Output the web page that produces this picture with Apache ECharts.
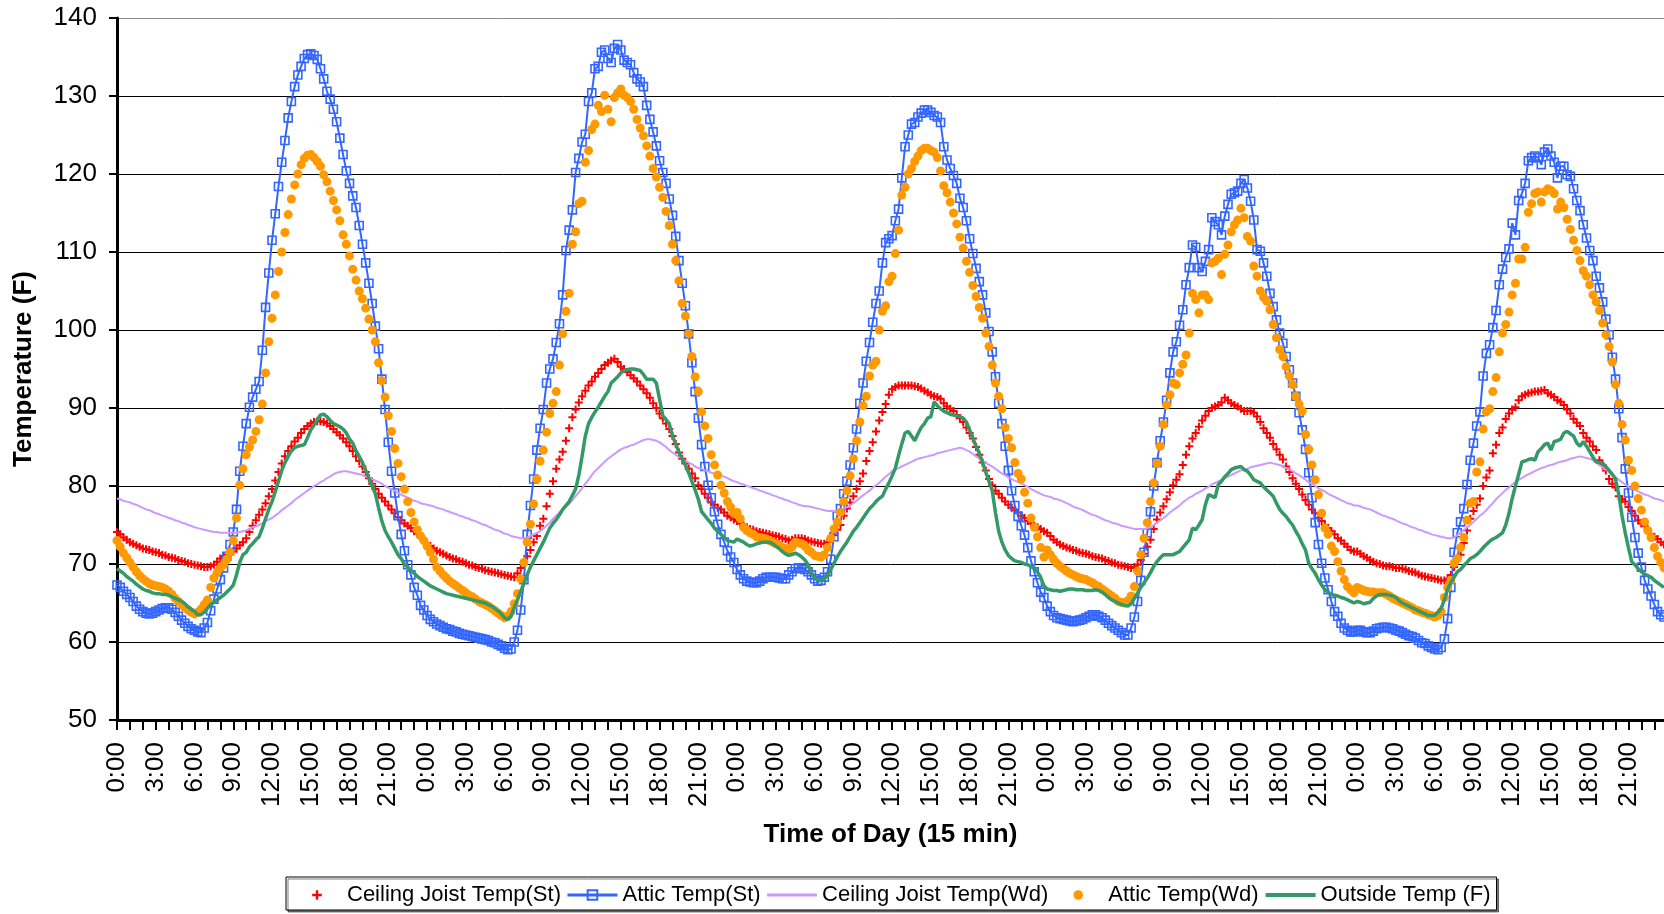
<!DOCTYPE html>
<html>
<head>
<meta charset="utf-8">
<title>Attic and Ceiling Joist Temperatures</title>
<script src="https://cdn.jsdelivr.net/npm/echarts@6.0.0/dist/echarts.min.js"></script>
<style>
html, body { margin: 0; padding: 0; background: #ffffff; }
#chart { width: 1664px; height: 914px; }
</style>
</head>
<body>
<div id="chart"></div>
<script>
// Quarter-hour slots of one day
const timeOfDay = [
  "0:00","0:15","0:30","0:45","1:00","1:15","1:30","1:45","2:00","2:15","2:30","2:45",
  "3:00","3:15","3:30","3:45","4:00","4:15","4:30","4:45","5:00","5:15","5:30","5:45",
  "6:00","6:15","6:30","6:45","7:00","7:15","7:30","7:45","8:00","8:15","8:30","8:45",
  "9:00","9:15","9:30","9:45","10:00","10:15","10:30","10:45","11:00","11:15","11:30","11:45",
  "12:00","12:15","12:30","12:45","13:00","13:15","13:30","13:45","14:00","14:15","14:30","14:45",
  "15:00","15:15","15:30","15:45","16:00","16:15","16:30","16:45","17:00","17:15","17:30","17:45",
  "18:00","18:15","18:30","18:45","19:00","19:15","19:30","19:45","20:00","20:15","20:30","20:45",
  "21:00","21:15","21:30","21:45","22:00","22:15","22:30","22:45","23:00","23:15","23:30","23:45"
];
const dayCount = 5;

// Ceiling joist temperature, steel framing (F), one value per 15 minutes
const ceilingJoistSt = [
  74.1,73.8,73.4,73.1, 72.8,72.6,72.4,72.2, 72.0,71.9,71.8,71.6, 71.5,71.4,71.2,71.1, 70.9,70.8,70.7,70.5, 70.4,70.3,70.1,70.0,
  69.9,69.8,69.7,69.6, 69.6,69.7,69.9,70.3, 70.7,71.0,71.2,71.4, 71.6,72.0,72.4,72.8, 73.3,74.1,74.9,75.6, 76.3,77.0,77.8,78.7,
  79.6,80.7,81.8,82.9, 83.8,84.5,85.1,85.7, 86.2,86.8,87.3,87.7, 88.0,88.2,88.3,88.3, 88.2,88.0,87.7,87.3, 86.9,86.5,86.1,85.6,
  85.1,84.5,83.8,83.2, 82.5,81.8,81.0,80.3, 79.6,79.0,78.5,78.0, 77.5,77.0,76.5,76.0, 75.6,75.2,74.9,74.6, 74.2,73.9,73.5,73.1,

  72.6,72.3,72.0,71.7, 71.5,71.3,71.1,70.9, 70.7,70.6,70.4,70.3, 70.1,69.9,69.8,69.6, 69.5,69.4,69.2,69.1, 69.0,68.9,68.8,68.7,
  68.6,68.5,68.4,68.3, 68.8,69.5,70.2,71.0, 71.8,72.8,73.6,74.9, 75.8,77.4,79.0,80.6, 82.2,83.4,84.4,85.8, 87.4,88.8,89.8,90.7,
  91.5,92.2,92.9,93.4, 94.0,94.5,95.0,95.5, 95.8,96.1,96.3,95.9, 95.3,95.0,94.6,94.2, 93.8,93.4,92.9,92.4, 91.9,91.3,90.6,90.0,
  89.3,88.7,88.0,87.3, 86.4,85.4,84.3,83.5, 82.9,82.2,81.6,81.0, 80.1,79.6,79.0,78.5, 77.9,77.6,77.2,77.0, 76.6,76.2,76.0,75.7,

  75.5,75.2,74.9,74.7, 74.5,74.4,74.2,74.1, 74.0,73.9,73.8,73.7, 73.6,73.5,73.3,73.2, 73.0,73.1,73.3,73.3, 73.3,73.2,73.0,72.9,
  72.8,72.7,72.6,72.6, 72.8,73.2,73.7,74.4, 75.0,76.2,77.1,77.9, 78.7,79.6,80.6,81.6, 83.2,84.5,85.6,87.0, 88.4,89.5,90.5,91.7,
  92.4,92.7,92.9,92.9, 92.9,92.9,92.9,92.8, 92.7,92.5,92.2,92.0, 91.7,91.5,91.4,91.2, 90.6,90.2,89.9,89.6, 89.1,88.7,88.2,87.5,
  86.8,86.1,85.0,84.0, 83.0,82.0,80.9,80.1, 79.4,79.0,78.5,78.0, 77.6,77.2,76.9,76.6, 76.2,75.9,75.5,75.2, 74.9,74.7,74.5,74.2,

  74.0,73.6,73.1,72.8, 72.5,72.3,72.1,72.0, 71.8,71.7,71.5,71.4, 71.3,71.2,71.0,70.9, 70.8,70.7,70.5,70.4, 70.2,70.1,69.9,69.8,
  69.7,69.6,69.5,69.6, 69.9,70.5,71.3,72.2, 73.1,74.5,75.7,76.6, 77.4,78.3,79.2,80.1, 80.8,81.5,82.7,84.0, 85.1,86.1,86.8,87.6,
  88.4,89.0,89.6,90.0, 90.2,90.4,90.7,91.3, 91.0,90.6,90.4,90.2, 89.9,89.6,89.6,89.6, 89.4,88.9,88.2,87.4, 86.8,86.2,85.4,84.7,
  84.0,83.4,82.5,81.8, 81.0,80.3,79.6,78.9, 78.2,77.6,77.0,76.5, 75.9,75.5,75.0,74.6, 74.2,73.8,73.3,73.0, 72.6,72.2,71.8,71.6,

  71.6,71.3,71.0,70.8, 70.5,70.3,70.1,70.0, 69.8,69.7,69.7,69.6, 69.5,69.5,69.4,69.3, 69.1,69.0,68.9,68.7, 68.5,68.4,68.3,68.2,
  68.1,68.0,67.9,67.9, 68.1,68.6,69.6,70.6, 71.2,72.7,74.3,75.8, 76.8,77.6,78.4,80.0, 81.1,82.0,84.2,85.3, 86.8,87.5,88.6,89.3,
  89.8,90.1,91.0,91.5, 91.7,91.9,92.0,92.1, 92.1,92.2,92.3,91.9, 91.7,91.4,91.0,90.8, 90.4,89.8,89.3,88.6, 88.1,87.7,86.8,86.2,
  85.7,85.1,84.6,83.3, 82.7,82.0,80.9,80.3, 79.8,78.7,78.3,78.0, 77.3,76.8,76.2,75.6, 75.2,74.9,74.3,73.8, 73.5,73.2,72.8,72.5
];

// Attic air temperature, steel framing (F)
const atticSt = [
  67.3,67.0,66.5,66.1, 65.7,65.2,64.6,64.2, 63.9,63.7,63.6,63.7, 63.9,64.1,64.3,64.4, 64.4,64.2,63.8,63.3, 62.8,62.4,62.0,61.7,
  61.5,61.3,61.2,61.8, 62.5,64.0,65.5,66.8, 68.0,69.5,71.0,72.5, 74.1,77.0,81.9,85.1, 88.0,90.1,91.4,92.4, 93.4,97.4,102.9,107.3,
  111.5,114.9,118.4,121.5, 124.3,127.2,129.3,131.2, 132.7,133.8,134.8,135.3, 135.4,135.2,134.7,133.5, 132.2,130.6,129.6,128.3, 126.7,124.6,122.5,120.4,
  118.8,117.2,115.7,113.4, 111.0,108.6,106.0,103.4, 100.5,97.6,93.7,89.8, 85.6,81.9,79.1,76.2, 73.8,71.7,69.9,68.6, 67.0,66.0,64.7,64.1,

  63.4,62.9,62.6,62.3, 62.1,61.9,61.7,61.6, 61.4,61.3,61.1,61.0, 60.9,60.8,60.7,60.6, 60.5,60.4,60.3,60.2, 60.0,59.9,59.7,59.5,
  59.2,59.0,59.1,60.0, 61.5,64.1,68.0,73.8, 77.5,80.9,84.6,87.4, 89.8,93.2,95.0,96.3, 98.4,100.8,104.5,110.2, 112.8,115.4,120.2,122.0,
  124.1,125.1,129.3,130.4, 133.5,133.8,135.6,135.9, 134.8,134.3,136.1,136.6, 135.9,134.6,134.3,134.0, 133.0,132.2,131.8,131.2, 128.8,127.0,125.4,123.6,
  121.7,120.2,118.8,116.8, 114.7,112.0,108.9,106.0, 103.1,99.5,95.8,92.1, 88.7,85.3,82.5,80.1, 78.5,76.7,75.1,73.8, 72.8,71.7,70.9,70.2,

  69.3,68.6,68.1,67.8, 67.7,67.6,67.6,67.8, 68.1,68.3,68.3,68.3, 68.3,68.2,68.1,68.1, 68.6,69.0,69.4,69.5, 69.5,69.3,69.0,68.6,
  68.1,67.8,67.9,68.3, 69.0,70.6,73.5,76.2, 77.1,79.0,80.6,82.7, 84.9,87.3,90.6,93.2, 96.0,98.4,101.0,103.4, 105.0,108.6,111.2,111.7,
  112.1,114.0,115.5,119.5, 123.5,125.0,126.4,126.6, 127.3,127.8,128.2,128.2, 127.9,127.5,127.3,126.6, 123.5,121.8,120.7,119.8, 118.8,116.9,115.7,114.0,
  111.7,109.8,107.9,106.2, 104.5,102.2,99.8,97.2, 94.0,90.6,88.0,85.1, 82.0,79.4,77.5,76.1, 74.9,73.7,72.1,70.4, 69.0,67.6,66.4,65.7,

  64.6,63.9,63.4,63.1, 63.0,62.9,62.8,62.7, 62.6,62.7,62.8,62.9, 63.1,63.3,63.5,63.5, 63.3,63.1,62.8,62.4, 62.1,61.8,61.5,61.2,
  60.9,60.9,61.8,63.2, 65.2,67.9,71.5,74.0, 76.7,80.0,83.0,85.8, 88.2,91.0,94.5,97.2, 98.5,100.6,102.6,105.8, 108.0,110.9,110.6,108.0,
  107.5,108.8,110.3,114.4, 113.9,113.5,112.2,114.6, 116.1,117.4,117.6,117.8, 118.8,119.3,118.2,116.5, 114.1,110.3,110.1,108.6, 106.9,104.7,103.0,101.3,
  99.6,98.3,96.6,94.9, 93.2,91.5,89.4,87.2, 84.7,81.7,78.5,75.3, 72.5,70.1,68.2,66.7, 65.2,63.9,63.3,62.4, 61.8,61.5,61.3,61.3,

  61.5,61.5,61.3,61.2, 61.2,61.4,61.7,61.8, 61.9,61.9,61.8,61.7, 61.5,61.4,61.2,61.0, 60.8,60.7,60.5,60.2, 59.9,59.8,59.5,59.3,
  59.1,59.0,59.3,60.4, 63.0,67.0,71.5,74.0, 75.4,77.1,80.2,83.3, 85.5,87.7,89.5,94.1, 97.0,98.1,100.3,102.5, 105.8,107.8,109.3,110.4,
  113.7,112.2,116.6,117.5, 118.8,121.7,122.1,122.3, 122.1,121.2,122.8,123.2, 122.3,121.5,119.5,121.0, 121.0,119.9,119.7,118.1, 116.6,115.3,113.5,111.8,
  110.2,108.9,106.9,105.4, 103.6,101.4,99.4,96.5, 93.7,89.9,86.2,82.2, 79.1,76.0,73.4,71.4, 69.6,67.9,66.8,65.9, 64.8,63.9,63.5,63.2
];

// Ceiling joist temperature, wood framing (F)
const ceilingJoistWd = [
  78.4,78.3,78.1,78.0, 77.9,77.7,77.6,77.4, 77.2,77.0,76.9,76.7, 76.5,76.4,76.2,76.1, 75.9,75.8,75.6,75.5, 75.3,75.2,75.0,74.9,
  74.7,74.6,74.5,74.4, 74.3,74.2,74.1,74.1, 74.0,74.0,74.0,74.0, 74.0,74.0,74.1,74.2, 74.3,74.5,74.7,74.8, 75.0,75.2,75.5,75.7,
  75.9,76.2,76.5,76.9, 77.2,77.5,77.8,78.2, 78.5,78.8,79.1,79.4, 79.7,80.0,80.2,80.5, 80.7,81.0,81.2,81.5, 81.7,81.8,81.9,81.9,
  81.8,81.7,81.6,81.5, 81.4,81.2,81.1,80.9, 80.7,80.5,80.3,80.0, 79.8,79.6,79.4,79.1, 78.9,78.7,78.5,78.3, 78.1,78.0,77.8,77.7,

  77.6,77.5,77.4,77.2, 77.1,77.0,76.8,76.7, 76.5,76.4,76.2,76.1, 75.9,75.8,75.6,75.5, 75.3,75.1,75.0,74.8, 74.6,74.4,74.3,74.1,
  73.9,73.8,73.6,73.5, 73.4,73.3,73.3,73.4, 73.6,73.8,74.0,74.2, 74.5,74.9,75.3,75.8, 76.2,76.6,77.0,77.3, 77.7,78.2,78.7,79.2,
  79.7,80.3,80.8,81.4, 81.9,82.3,82.7,83.1, 83.5,83.8,84.1,84.4, 84.7,84.9,85.0,85.2, 85.3,85.5,85.7,85.9, 86.0,86.0,85.9,85.8,
  85.6,85.3,85.0,84.6, 84.3,84.0,83.7,83.5, 83.2,83.0,82.8,82.5, 82.3,82.2,82.0,81.9, 81.7,81.6,81.5,81.3, 81.2,81.0,80.8,80.6,

  80.5,80.3,80.2,80.0, 79.9,79.7,79.6,79.4, 79.3,79.1,79.0,78.8, 78.7,78.5,78.4,78.2, 78.1,77.9,77.8,77.6, 77.5,77.4,77.4,77.3,
  77.2,77.1,77.0,76.9, 76.8,76.8,76.8,76.8, 76.9,77.1,77.3,77.5, 77.8,78.1,78.5,78.8, 79.1,79.4,79.8,80.1, 80.4,80.8,81.2,81.5,
  81.9,82.1,82.3,82.5, 82.7,82.9,83.1,83.3, 83.5,83.6,83.7,83.8, 83.9,84.0,84.2,84.3, 84.4,84.5,84.6,84.7, 84.8,84.9,84.8,84.6,
  84.4,84.1,83.8,83.5, 83.2,83.0,82.7,82.5, 82.2,81.9,81.6,81.4, 81.1,80.9,80.7,80.5, 80.3,80.1,79.9,79.6, 79.4,79.2,79.0,78.8,

  78.7,78.6,78.4,78.3, 78.2,78.0,77.8,77.6, 77.4,77.2,77.1,76.9, 76.7,76.5,76.3,76.2, 76.0,75.8,75.6,75.5, 75.3,75.2,75.1,74.9,
  74.8,74.7,74.6,74.5, 74.5,74.5,74.5,74.6, 74.7,75.0,75.3,75.6, 75.9,76.2,76.6,76.9, 77.2,77.5,77.9,78.2, 78.5,78.7,79.0,79.2,
  79.4,79.7,79.9,80.2, 80.4,80.6,80.8,81.0, 81.2,81.4,81.6,81.8, 82.0,82.1,82.2,82.4, 82.5,82.6,82.7,82.8, 82.9,83.0,82.9,82.8,
  82.7,82.5,82.3,82.1, 81.9,81.6,81.4,81.1, 80.8,80.5,80.3,80.0, 79.7,79.5,79.3,79.0, 78.8,78.6,78.4,78.2, 78.0,77.8,77.7,77.5,

  77.5,77.4,77.2,77.1, 77.0,76.8,76.6,76.4, 76.2,76.1,75.9,75.8, 75.6,75.4,75.2,75.1, 74.9,74.7,74.6,74.4, 74.3,74.1,74.0,73.8,
  73.7,73.6,73.5,73.4, 73.3,73.3,73.4,73.7, 74.0,74.3,74.7,75.0, 75.4,75.8,76.2,76.5, 76.9,77.4,77.8,78.3, 78.7,79.1,79.5,79.8,
  80.2,80.5,80.8,81.0, 81.3,81.5,81.7,81.9, 82.1,82.3,82.4,82.6, 82.7,82.8,83.0,83.1, 83.2,83.3,83.5,83.6, 83.7,83.8,83.7,83.6,
  83.5,83.3,83.0,82.7, 82.4,82.1,81.8,81.4, 81.1,80.8,80.5,80.2, 79.9,79.7,79.5,79.3, 79.1,78.9,78.8,78.6, 78.4,78.3,78.2,78.0
];

// Attic air temperature, wood framing (F)
const atticWd = [
  73.0,72.2,71.4,70.8, 70.2,69.6,69.0,68.5, 68.1,67.8,67.5,67.3, 67.2,67.1,67.0,66.8, 66.5,66.1,65.6,65.2, 64.8,64.4,64.1,63.8,
  63.6,63.8,64.2,64.8, 65.4,67.0,68.2,68.9, 69.5,69.9,70.6,71.5, 73.0,75.9,80.1,82.2, 84.0,85.0,85.9,87.0, 88.5,90.5,94.5,98.5,
  101.5,104.5,107.5,110.0, 112.5,114.8,116.8,118.6, 120.0,121.2,122.0,122.4, 122.5,122.1,121.6,121.0, 119.9,119.0,117.8,116.6, 115.4,114.0,112.2,111.0,
  109.5,107.8,106.4,105.0, 104.0,102.8,101.4,100.0, 98.5,95.8,93.5,91.4, 89.0,87.0,84.8,82.9, 81.2,79.6,78.0,76.6, 75.4,74.4,73.6,73.0,

  72.3,71.5,70.6,69.6, 69.1,68.6,68.2,67.8, 67.5,67.2,66.9,66.6, 66.3,66.0,65.8,65.5, 65.2,65.0,64.8,64.6, 64.3,64.0,63.7,63.4,
  63.1,63.3,63.9,64.9, 66.2,68.1,70.2,72.8, 75.1,77.7,80.9,83.2, 84.6,86.9,89.3,90.6, 92.1,95.5,99.5,102.4, 104.7,111.0,112.6,116.2,
  116.5,121.5,123.0,125.7, 126.4,128.8,128.0,130.1, 128.3,126.7,129.8,130.4, 130.9,130.1,129.8,129.3, 128.3,127.0,125.9,124.9, 123.6,122.3,120.7,119.6,
  118.3,117.0,115.2,113.4, 111.0,108.9,106.3,103.4, 101.8,99.5,96.6,94.0, 92.1,89.5,87.7,86.1, 84.0,82.7,81.4,80.1, 79.1,78.0,77.3,76.5,

  76.6,75.8,74.7,74.3, 74.0,73.8,73.5,73.4, 73.3,73.2,73.0,72.8, 72.6,72.4,72.1,72.0, 71.8,72.2,72.8,72.7, 72.6,72.3,71.8,71.5,
  71.1,71.0,70.9,71.2, 72.1,73.3,74.5,75.4, 76.6,78.0,79.4,81.3, 83.5,85.8,88.2,90.3, 91.5,94.1,95.5,96.0, 100.0,102.4,103.1,106.2,
  106.9,109.8,112.8,117.3, 118.3,120.0,120.7,121.6, 122.3,123.0,123.3,123.3, 123.0,122.8,122.1,120.4, 118.5,117.6,116.4,115.0, 113.6,111.9,110.5,108.8,
  107.4,105.7,104.3,102.9, 101.5,99.6,97.9,95.5, 93.2,91.5,89.9,87.5, 86.1,84.9,83.0,81.6, 80.9,79.2,77.8,75.9, 74.7,73.5,72.1,70.9,

  71.8,71.2,70.6,70.1, 69.7,69.4,69.1,68.8, 68.6,68.4,68.2,68.1, 68.0,67.8,67.6,67.3, 67.1,66.8,66.5,66.2, 65.9,65.6,65.2,65.1,
  65.0,65.3,65.9,67.1, 69.1,71.2,73.3,75.3, 78.0,80.4,82.9,85.1, 87.9,90.4,91.7,93.2, 93.0,94.5,95.6,96.8, 99.6,104.7,103.9,102.2,
  104.5,104.5,103.9,108.6, 108.8,109.2,107.1,109.7, 110.9,112.6,113.5,114.1, 115.6,114.4,112.0,111.4, 108.2,106.9,105.0,104.2, 103.7,102.6,100.7,99.0,
  97.5,96.6,95.3,94.1, 93.0,91.5,90.5,89.6, 86.6,84.7,82.7,80.8, 78.9,76.5,74.6,73.8, 72.3,71.6,70.3,69.1, 68.0,67.1,66.7,66.3,

  67.0,66.8,66.6,66.5, 66.4,66.4,66.3,66.3, 66.3,66.1,65.9,65.6, 65.4,65.2,65.0,64.8, 64.6,64.4,64.1,64.0, 63.8,63.7,63.5,63.4,
  63.2,63.4,63.9,65.7, 67.0,67.9,70.1,70.7, 72.1,73.4,75.6,77.8, 78.0,81.8,83.1,87.3, 89.5,89.9,92.1,93.9, 97.2,99.6,100.7,102.3,
  104.5,106.0,109.1,109.1, 110.6,115.1,116.2,117.5, 117.7,116.4,117.7,118.1, 117.9,117.5,115.5,116.4, 115.7,114.2,112.9,111.5, 110.2,108.9,107.6,106.9,
  105.8,104.5,103.6,102.5, 100.9,99.4,97.9,95.9, 93.0,90.6,87.9,85.9, 83.3,82.0,80.0,78.4, 76.9,75.4,74.3,73.4, 72.1,71.0,70.2,69.5
];

// Outside air temperature (F)
const outsideTemp = [
  69.4,69.1,68.8,68.4, 68.1,67.8,67.4,67.1, 66.8,66.6,66.5,66.3, 66.2,66.2,66.1,66.1, 66.0,65.8,65.6,65.4, 65.2,64.9,64.5,64.2,
  63.9,63.5,63.5,63.8, 64.3,64.8,65.1,65.4, 65.7,66.0,66.4,66.8, 67.3,68.6,70.2,71.2, 71.5,72.2,72.6,73.1, 73.5,74.6,75.8,77.0,
  78.0,79.3,80.6,82.0, 83.0,83.8,84.5,84.9, 85.1,85.2,85.3,86.2, 87.2,87.8,88.5,89.1, 89.2,88.9,88.4,88.0, 87.8,87.6,87.3,86.8,
  86.0,85.5,84.5,83.8, 83.0,82.0,81.0,80.0, 79.0,77.2,75.5,74.3, 73.5,72.8,72.0,71.2, 70.7,70.0,69.6,69.2, 68.8,68.4,68.1,67.8,

  67.5,67.2,67.0,66.8, 66.6,66.4,66.2,66.1, 66.0,65.9,65.8,65.7, 65.6,65.5,65.4,65.3, 65.2,65.1,65.0,64.8, 64.6,64.3,64.0,63.6,
  63.1,62.9,63.3,64.4, 65.4,66.5,67.5,68.6, 69.6,70.4,71.2,72.0, 72.8,73.7,74.6,75.2, 75.7,76.3,77.0,77.5, 78.0,78.8,79.6,81.4,
  83.8,86.4,88.0,88.8, 89.5,90.1,90.8,91.5, 92.1,93.2,93.6,94.0, 94.5,94.8,94.9,95.0, 95.0,94.9,94.8,94.3, 93.7,93.7,93.7,93.2,
  91.1,89.0,88.5,88.0, 86.4,85.4,84.3,83.5, 82.7,81.7,80.6,79.5, 78.3,76.7,76.2,75.7, 75.2,74.6,74.2,73.8, 73.4,73.0,72.9,72.8,

  73.2,73.0,72.8,72.5, 72.3,72.4,72.6,72.7, 72.8,72.8,72.8,72.6, 72.3,72.0,71.6,71.3, 71.1,71.2,71.4,71.2, 70.9,70.5,69.9,68.9,
  68.3,67.9,67.9,68.1, 68.5,69.3,70.1,70.9, 71.6,72.2,72.8,73.5, 74.2,74.7,75.3,75.9, 76.5,77.1,77.5,78.0, 78.4,78.7,79.6,80.4,
  81.3,82.3,83.9,85.4, 86.8,87.0,86.4,85.8, 86.7,87.5,88.0,88.7, 88.9,90.8,90.3,89.9, 89.6,89.4,89.2,89.1, 89.0,88.9,88.7,88.2,
  87.2,86.1,85.1,84.2, 83.0,81.8,80.6,79.4, 76.6,74.2,72.8,71.8, 71.1,70.7,70.4,70.3, 70.2,70.0,69.9,69.7, 69.5,69.0,68.3,67.2,

  66.8,66.7,66.6,66.6, 66.5,66.6,66.7,66.8, 66.8,66.7,66.7,66.7, 66.6,66.6,66.6,66.7, 66.6,66.4,66.1,65.7, 65.4,65.2,65.0,64.8,
  64.7,64.6,64.9,65.6, 66.3,67.0,67.6,68.2, 68.9,69.7,70.3,70.8, 71.2,71.2,71.2,71.2, 71.4,71.6,72.1,72.6, 73.1,74.6,74.4,75.0,
  75.7,77.6,78.9,78.7, 78.5,80.2,80.6,81.2, 81.6,82.1,82.3,82.4, 82.5,82.1,81.9,81.4, 80.8,80.6,80.4,79.9, 79.5,79.1,78.7,77.8,
  77.0,76.5,76.1,75.5, 75.0,74.2,73.5,72.6, 71.8,70.1,69.4,68.8, 68.0,67.3,66.7,66.4, 66.1,66.0,65.9,65.7, 65.6,65.4,65.2,65.0,

  65.2,65.1,64.9,65.0, 65.1,65.6,65.9,66.1, 66.1,66.1,66.0,65.9, 65.7,65.3,65.0,64.8, 64.6,64.4,64.2,64.0, 63.8,63.6,63.4,63.4,
  63.4,63.8,64.3,65.4, 66.8,67.6,68.3,69.0, 69.3,69.8,70.2,70.7, 70.9,71.2,71.6,72.1, 72.5,72.9,73.2,73.4, 73.7,74.0,75.0,76.5,
  78.4,80.0,81.5,83.1, 83.2,83.4,83.5,83.3, 84.4,84.8,85.3,85.5, 84.6,85.7,85.8,86.0, 86.8,87.0,86.7,86.4, 85.5,85.1,85.7,85.1,
  84.4,83.7,83.1,83.0, 82.9,82.5,82.0,81.5, 80.9,78.9,76.2,74.0, 72.1,70.3,69.9,69.4, 69.0,68.7,68.5,68.3, 67.9,67.6,67.3,67.0
];

// Category axis: the same 96 quarter-hour slots for each day
const categories = [];
for (let d = 0; d < dayCount; d++) {
  for (let i = 0; i < timeOfDay.length; i++) categories.push(timeOfDay[i]);
}

const FONT = "'Liberation Sans', Arial, Helvetica, sans-serif";
const PLUS = 'path://M3,0H5V3H8V5H5V8H3V5H0V3H3Z';

const chart = echarts.init(document.getElementById('chart'), null, { renderer: 'canvas' });

chart.setOption({
  animation: false,
  backgroundColor: '#ffffff',
  grid: { left: 117, top: 18, right: 0, bottom: 194, containLabel: false, outerBoundsMode: 'none' },
  legend: {
    left: 286,
    top: 877,
    padding: [7, 6, 4, 6],
    itemWidth: 50,
    itemHeight: 12,
    itemGap: 5,
    selectedMode: false,
    borderColor: '#000000',
    borderWidth: 1,
    backgroundColor: '#ffffff',
    shadowColor: 'rgba(0,0,0,0.5)',
    shadowOffsetX: 2,
    shadowOffsetY: 2,
    shadowBlur: 0,
    textStyle: { fontFamily: FONT, fontSize: 22, color: '#000000' },
    data: [
      { name: 'Ceiling Joist Temp(St)', itemStyle: { opacity: 1 } },
      { name: 'Attic Temp(St)', itemStyle: { color: 'rgba(255,255,255,0)', borderColor: '#3366FF', borderWidth: 2, opacity: 1 }, lineStyle: { width: 3 } },
      { name: 'Ceiling Joist Temp(Wd)', itemStyle: { opacity: 0 }, lineStyle: { width: 3 } },
      { name: 'Attic Temp(Wd)', itemStyle: { opacity: 1 } },
      { name: 'Outside Temp (F)', itemStyle: { opacity: 0 }, lineStyle: { width: 4 } }
    ]
  },
  xAxis: {
    type: 'category',
    data: categories,
    boundaryGap: false,
    name: 'Time of Day (15 min)',
    nameLocation: 'middle',
    nameGap: 102,
    nameTextStyle: { fontFamily: FONT, fontSize: 26, fontWeight: 'bold', color: '#000000' },
    axisLine: { show: true, lineStyle: { color: '#000000', width: 3 } },
    axisTick: { show: true, interval: 3, length: 10, lineStyle: { color: '#000000', width: 2 } },
    axisLabel: { interval: 11, rotate: 90, margin: 22, fontFamily: FONT, fontSize: 26, color: '#000000' },
    splitLine: { show: false }
  },
  yAxis: {
    type: 'value',
    min: 50,
    max: 140,
    interval: 10,
    name: 'Temperature (F)',
    nameLocation: 'middle',
    nameGap: 80,
    nameTextStyle: { fontFamily: FONT, fontSize: 26, fontWeight: 'bold', color: '#000000' },
    axisLine: { show: true, lineStyle: { color: '#000000', width: 3 } },
    axisTick: { show: true, length: 8, lineStyle: { color: '#000000', width: 2 } },
    axisLabel: { margin: 20, fontFamily: FONT, fontSize: 26, color: '#000000' },
    splitLine: {
      show: true,
      lineStyle: {
        color: ['#000000', '#000000', '#000000', '#000000', '#000000', '#000000', '#000000', '#000000', '#000000', '#8c8c8c'],
        width: 1
      }
    }
  },
  series: [
    {
      name: 'Ceiling Joist Temp(St)',
      type: 'line',
      data: ceilingJoistSt,
      z: 2,
      color: '#FF0000',
      symbol: PLUS,
      symbolSize: 8,
      showSymbol: true,
      showAllSymbol: true,
      lineStyle: { width: 0 },
      itemStyle: { color: '#FF0000' },
      silent: true
    },
    {
      name: 'Attic Temp(St)',
      type: 'line',
      data: atticSt,
      z: 3,
      color: '#3366FF',
      symbol: 'rect',
      symbolSize: 8,
      showSymbol: true,
      showAllSymbol: true,
      lineStyle: { color: '#3366FF', width: 2 },
      itemStyle: { color: 'rgba(255,255,255,0)', borderColor: '#3366FF', borderWidth: 1.6 },
      silent: true
    },
    {
      name: 'Ceiling Joist Temp(Wd)',
      type: 'line',
      data: ceilingJoistWd,
      z: 4,
      color: '#CC99FF',
      symbol: 'none',
      showSymbol: false,
      lineStyle: { color: '#CC99FF', width: 2 },
      silent: true
    },
    {
      name: 'Attic Temp(Wd)',
      type: 'line',
      data: atticWd,
      z: 5,
      color: '#FF9900',
      symbol: 'circle',
      symbolSize: 9,
      showSymbol: true,
      showAllSymbol: true,
      lineStyle: { width: 0 },
      itemStyle: { color: '#FF9900' },
      silent: true
    },
    {
      name: 'Outside Temp (F)',
      type: 'line',
      data: outsideTemp,
      z: 6,
      color: '#339966',
      symbol: 'none',
      showSymbol: false,
      lineStyle: { color: '#339966', width: 3.5 },
      silent: true
    }
  ]
});
</script>
</body>
</html>
